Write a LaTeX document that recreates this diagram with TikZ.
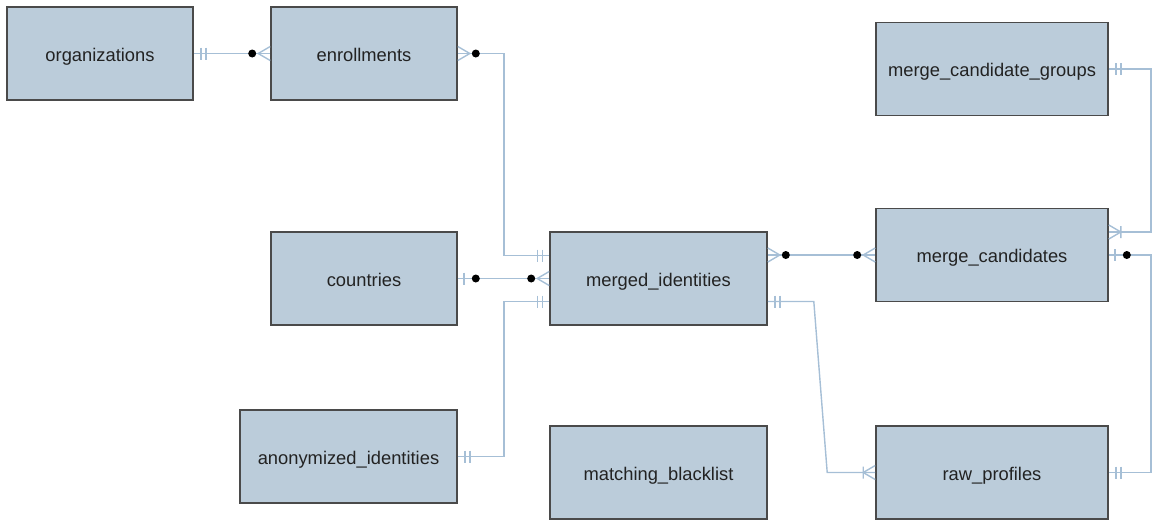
\documentclass[tikz,border=0pt]{standalone}
\usepackage{fontspec}
\setmainfont{Liberation Sans}
\usetikzlibrary{calc}
\definecolor{entfill}{HTML}{BBCCDA}
\definecolor{entline}{HTML}{4A4A4A}
\definecolor{relline}{HTML}{A6BFD6}
\definecolor{enttext}{HTML}{222222}
\begin{document}
\begin{tikzpicture}[x=0.75pt,y=-0.75pt,
  entity/.style={draw=entline,line width=1.2pt,fill=entfill,text=enttext,
    minimum height=69.75pt,inner sep=0pt,text height=11.6pt,text depth=0pt,
    font=\fontsize{13.75}{16}\selectfont},
  w186/.style={minimum width=139.5pt},
  w217/.style={minimum width=162.75pt},
  w232/.style={minimum width=174pt},
  rel/.style={draw=relline,line width=1.05pt},
  % cardinality marks; local frame: box edge at x=0, connector runs towards +x
  pics/mand/.style={code={
    \draw[rel] (7,-6) -- (7,6) (12,-6) -- (12,6);}},
  pics/zmany/.style={code={
    \draw[rel] (0,-7) -- (12,0) -- (0,7);
    \fill (18,0) circle[radius=3pt];}},
  pics/zone/.style={code={
    \draw[rel] (6,-6) -- (6,6);
    \fill (18,0) circle[radius=3pt];}},
  pics/omany/.style={code={
    \draw[rel] (0,-7) -- (12,0) -- (0,7) (12,-6) -- (12,6);}},
  left/.style={xscale=-1}
]
\useasboundingbox (0,0) rectangle (1155,519);

% entities
\node[entity,w186] (org) at (100,53.5) {organizations};
\node[entity,w186] (en)  at (364,53.5) {enrollments};
\node[entity,w232] (mcg) at (992,69) {merge\_candidate\_groups};
\node[entity,w186] (co)  at (364,278.5) {countries};
\node[entity,w217] (mi)  at (658.5,278.5) {merged\_identities};
\node[entity,w232] (mc)  at (992,255) {merge\_candidates};
\node[entity,w217] (an)  at (348.5,456.5) {anonymized\_identities};
\node[entity,w217] (mb)  at (658.5,472.5) {matching\_blacklist};
\node[entity,w232] (rp)  at (992,472.5) {raw\_profiles};

% attachment points on the entity borders
\coordinate (miWup) at ($(mi.west)+(0,-23)$);
\coordinate (miWdn) at ($(mi.west)+(0,23)$);
\coordinate (miEup) at (mi.east |- mc.west);
\coordinate (miEdn) at ($(mi.east)+(0,23)$);
\coordinate (mcEup) at ($(mc.east)+(0,-23)$);

% relationships
\draw[rel] (org.east) -- (en.west);
\draw[rel] (en.east) -- ++(46,0) |- (miWup);
\draw[rel] (co.east) -- (mi.west);
\draw[rel] (an.east) -- ++(46,0) |- (miWdn);
\draw[rel] (miEup) -- (mc.west);
\draw[rel] (miEdn) -- ++(46,0) -- ($(rp.west)+(-48,0)$) -- (rp.west);
\draw[rel] (mcg.east) -- ++(42,0) |- (mcEup);
\draw[rel] (mc.east) -- ++(42,0) |- (rp.east);

% cardinalities
\pic at (org.east) {mand};
\pic[left] at (en.west) {zmany};
\pic at (en.east) {zmany};
\pic[left] at (miWup) {mand};
\pic at (co.east) {zone};
\pic[left] at (mi.west) {zmany};
\pic at (an.east) {mand};
\pic[left] at (miWdn) {mand};
\pic at (miEup) {zmany};
\pic[left] at (mc.west) {zmany};
\pic at (miEdn) {mand};
\pic[left] at (rp.west) {omany};
\pic at (mcg.east) {mand};
\pic at (mcEup) {omany};
\pic at (mc.east) {zone};
\pic at (rp.east) {mand};
\end{tikzpicture}
\end{document}
